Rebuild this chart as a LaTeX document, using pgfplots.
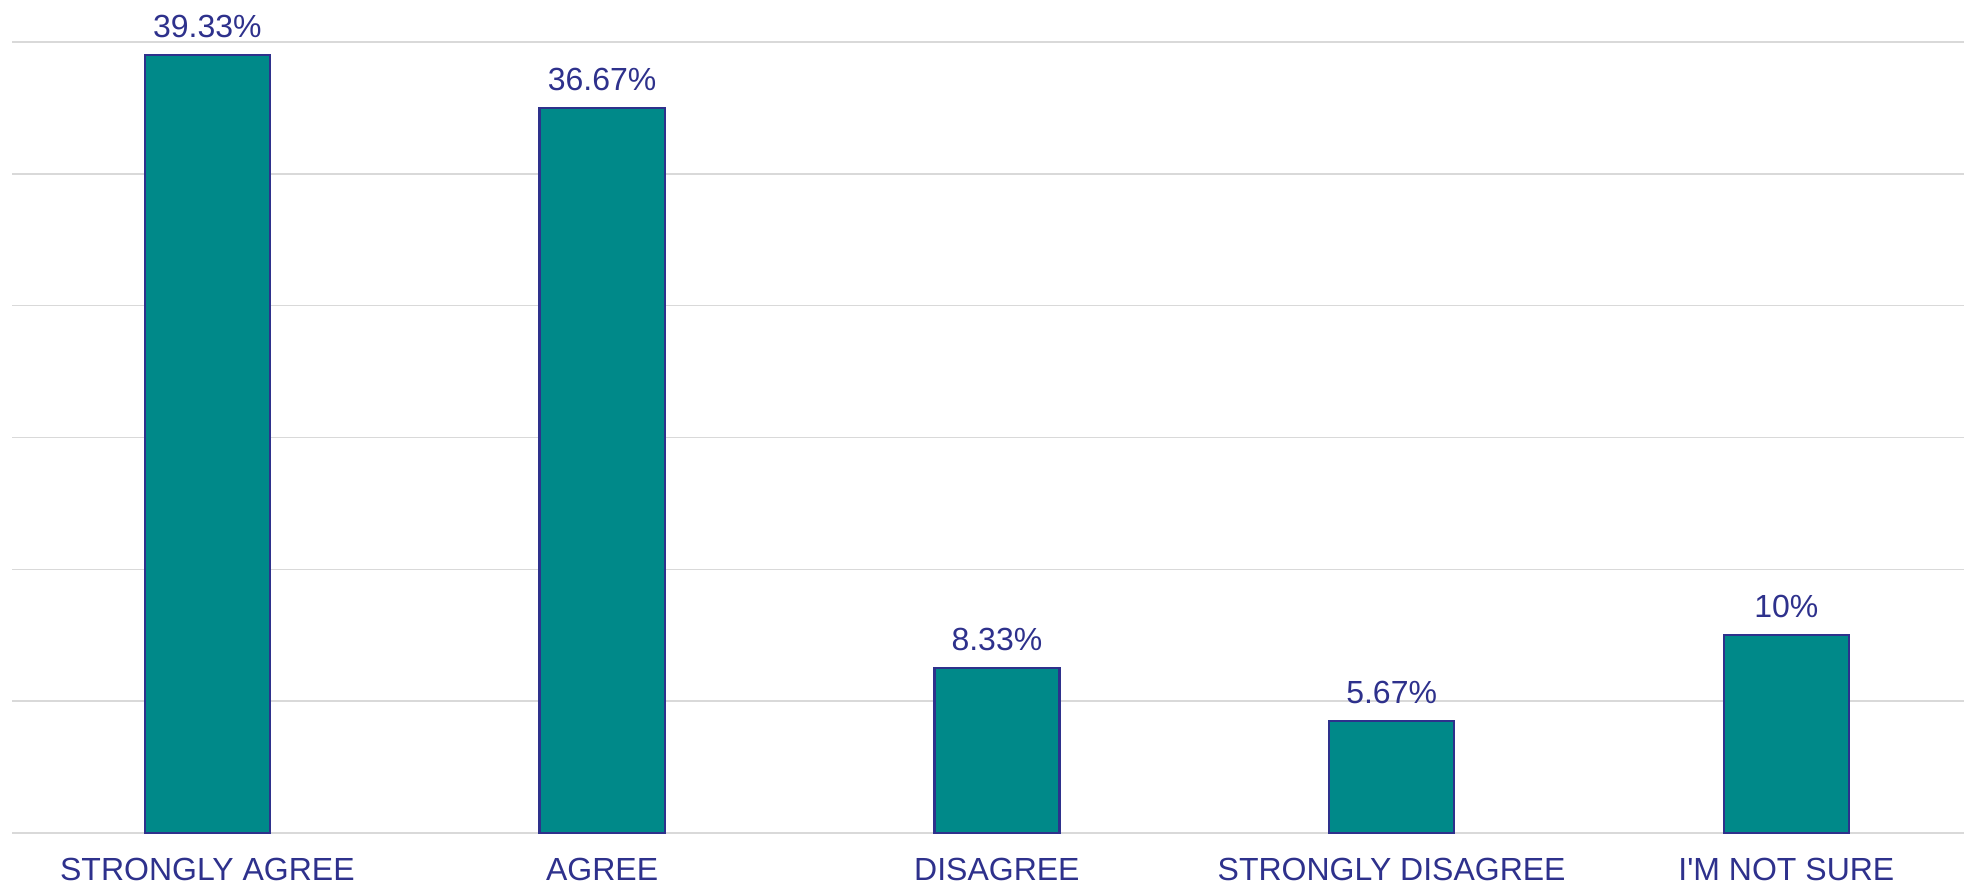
\documentclass[border=0pt]{standalone}
\usepackage{fontspec}
\setmainfont{Liberation Sans}
\usepackage{pgfplots}
\pgfplotsset{compat=1.18}
\definecolor{navy}{RGB}{46,49,140}
\definecolor{teal2}{RGB}{0,137,137}
\definecolor{gridc}{RGB}{217,217,217}
\begin{document}
\begin{tikzpicture}
\begin{axis}[
  name=ax,
  scale only axis,
  width=488pt, height=197.75pt,
  xmin=-0.495, xmax=4.45,
  ymin=0, ymax=40,
  ytick={0,6.6667,13.3333,20,26.6667,33.3333,40},
  yticklabels={},
  ymajorgrids,
  grid style={gridc, line width=0.4pt},
  axis line style={draw=none},
  major tick length=0pt,
  xtick=data,
  xticklabels={STRONGLY AGREE, AGREE, DISAGREE, STRONGLY DISAGREE, I\textquotesingle M NOT SURE},
  xticklabel style={font=\fontsize{8pt}{9.6pt}\selectfont, text=navy, inner sep=0pt, anchor=north, yshift=-6pt},
  ybar, bar width=0.317,
  nodes near coords,
  point meta=explicit symbolic,
  every node near coord/.append style={font=\fontsize{8pt}{9.6pt}\selectfont, text=navy, inner sep=0pt, anchor=south, yshift=4pt},
  clip=false,
]
\addplot[fill=teal2, draw=navy, line width=0.6pt] coordinates {
  (0,39.33) [39.33\%]
  (1,36.67) [36.67\%]
  (2,8.33) [8.33\%]
  (3,5.67) [5.67\%]
  (4,10) [10\%]
};
\end{axis}
\pgfresetboundingbox
\path[use as bounding box] ([xshift=-3pt,yshift=-13pt]ax.south west) rectangle ([yshift=10.5pt]ax.north east);
\end{tikzpicture}
\end{document}
